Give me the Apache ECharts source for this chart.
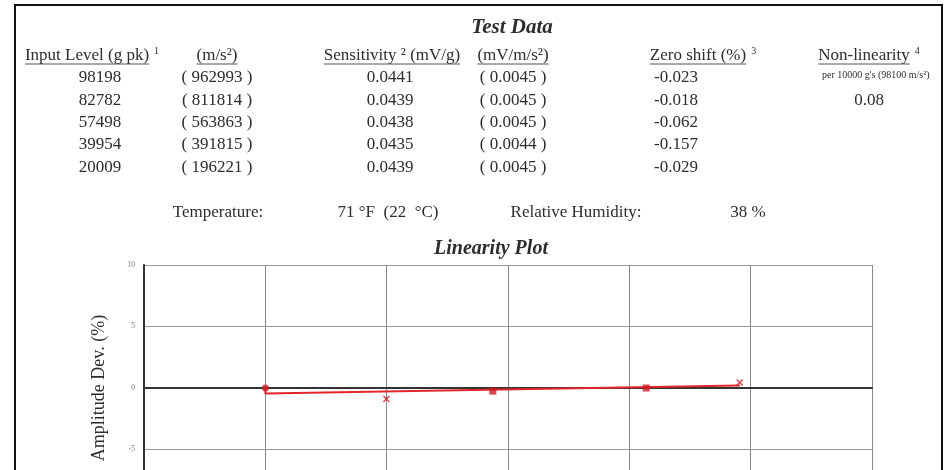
<!DOCTYPE html>
<html>
<head>
<meta charset="utf-8">
<script src="https://cdn.jsdelivr.net/npm/echarts@6/dist/echarts.min.js"></script>
<style>
  html, body { margin: 0; padding: 0; background: #fff; }
  #chart { width: 949px; height: 470px; }
</style>
</head>
<body>
<div id="chart"></div>
<script>
// ---- Test data table ----
const inputLevelG      = [98198, 82782, 57498, 39954, 20009];
const inputLevelMs2    = ['962993', '811814', '563863', '391815', '196221'];
const sensitivityMvG   = ['0.0441', '0.0439', '0.0438', '0.0435', '0.0439'];
const sensitivityMvMs2 = ['0.0045', '0.0045', '0.0045', '0.0044', '0.0045'];
const zeroShiftPct     = ['-0.023', '-0.018', '-0.062', '-0.157', '-0.029'];
const nonLinearityPct  = '0.08';

// ---- Linearity plot ----
const amplitudeDevPct  = [0.45, 0.0, -0.25, -0.9, 0.0];   // one per input level
const trendLevelG      = [20009, 20009, 98198];
const trendDevPct      = [0.0, -0.45, 0.2];

// header captions: [main text, superscript note]
const headers = [
  ['Input Level (g pk)', '1'],
  ['(m/s\u00B2)', ''],
  ['Sensitivity \u00B2 (mV/g)', ''],
  ['(mV/m/s\u00B2)', ''],
  ['Zero shift (%)', '3'],
  ['Non-linearity', '4']
];

// ---- layout ----
const SERIF = '"Liberation Serif", "Times New Roman", serif';
const INK = '#2d2d2d';
const headerX = [87, 217, 392, 513, 698, 864];
const valueX  = [100, 217, 390, 513, 676];
const headerY = 56;
const rowY0 = 78, rowStep = 22.3;

const measureCtx = document.createElement('canvas').getContext('2d');
function textWidth(str, font) { measureCtx.font = font; return measureCtx.measureText(str).width; }

const bodyFont = '17px ' + SERIF;
const supFont = '10px ' + SERIF;
const graphics = [];

function addText(str, x, y, font, align, extra) {
  graphics.push(Object.assign({
    type: 'text', x: x, y: y, silent: true,
    style: { text: str, font: font, fill: INK, align: align || 'center', verticalAlign: 'middle' }
  }, extra || {}));
}

addText('Test Data', 512, 28, 'italic bold 21px ' + SERIF);

headers.forEach(function (h, i) {
  const w = textWidth(h[0], bodyFont);
  const cx = headerX[i];
  addText(h[0], cx, headerY, bodyFont);
  graphics.push({
    type: 'line', silent: true,
    shape: { x1: cx - w / 2, y1: headerY + 8, x2: cx + w / 2, y2: headerY + 8 },
    style: { stroke: '#555', lineWidth: 1 }
  });
  if (h[1]) addText(h[1], cx + w / 2 + 5, headerY - 5, supFont, 'left');
});

const columns = [
  inputLevelG.map(String),
  inputLevelMs2.map(function (v) { return '( ' + v + ' )'; }),
  sensitivityMvG,
  sensitivityMvMs2.map(function (v) { return '( ' + v + ' )'; }),
  zeroShiftPct
];
columns.forEach(function (col, c) {
  col.forEach(function (v, r) { addText(v, valueX[c], rowY0 + r * rowStep, bodyFont); });
});

addText("per 10000 g's (98100 m/s\u00B2)", 822, rowY0 - 3, '10px ' + SERIF, 'left');
addText(nonLinearityPct, 869, rowY0 + rowStep, bodyFont);

addText('Temperature:', 218, 213, bodyFont);
addText('71 \u00B0F  (22  \u00B0C)', 388, 213, bodyFont);
addText('Relative Humidity:', 576, 213, bodyFont);
addText('38 %', 748, 213, bodyFont);

addText('Linearity Plot', 491, 249, 'italic bold 20px ' + SERIF);

// white margin past the frame, then the frame itself on top
graphics.push({
  type: 'rect', silent: true,
  shape: { x: 943, y: 0, width: 10, height: 470 },
  style: { fill: '#fff' }
});
graphics.push({
  type: 'rect', silent: true,
  shape: { x: 15, y: 5, width: 927, height: 490 },
  style: { fill: null, stroke: '#111', lineWidth: 2 }
});

// marker shapes per point
const crossPath = 'path://M0,1.5L1.5,0L5,3.5L8.5,0L10,1.5L6.5,5L10,8.5L8.5,10L5,6.5L1.5,10L0,8.5L3.5,5Z';
const markerSymbols = [crossPath, 'rect', 'rect', crossPath, 'circle'];

const chart = echarts.init(document.getElementById('chart'), null, { renderer: 'canvas' });
chart.setOption({
  animation: false,
  backgroundColor: '#fff',
  graphic: graphics,
  grid: {
    left: 144, top: 265, width: 728, height: 246,
    containLabel: false, outerBoundsMode: 'none'
  },
  xAxis: {
    type: 'value', min: 0, max: 120000, interval: 20000,
    axisLabel: { show: false },
    axisTick: { show: false },
    axisLine: { show: true, onZero: true, lineStyle: { color: '#333', width: 2 } },
    splitLine: { show: true, lineStyle: { color: '#8a8a8a', width: 1 } }
  },
  yAxis: {
    type: 'value', min: -10, max: 10, interval: 5,
    name: 'Amplitude Dev. (%)', nameLocation: 'middle', nameGap: 36,
    nameTextStyle: { fontFamily: SERIF, fontSize: 18, color: INK },
    axisLine: { show: true, lineStyle: { color: '#333', width: 2 } },
    axisTick: { show: false },
    axisLabel: { fontSize: 7.5, color: '#777', margin: 9, fontFamily: SERIF },
    splitLine: { show: true, lineStyle: { color: '#999', width: 1 } }
  },
  series: [
    {
      type: 'line',
      data: trendLevelG.map(function (g, i) { return [g, trendDevPct[i]]; }),
      showSymbol: false, symbol: 'none',
      lineStyle: { color: '#e3262b', width: 2 },
      z: 3
    },
    {
      type: 'scatter',
      data: inputLevelG.map(function (g, i) {
        return { value: [g, amplitudeDevPct[i]], symbol: markerSymbols[i] };
      }),
      symbolSize: 7,
      itemStyle: { color: '#d01c24' },
      z: 4
    }
  ]
});
</script>
</body>
</html>
